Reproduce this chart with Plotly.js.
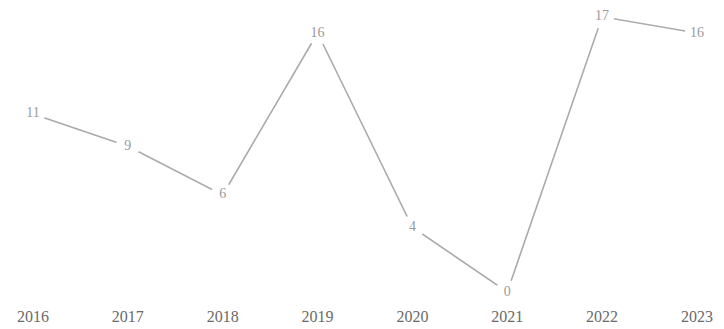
<!DOCTYPE html>
<html>
<head>
<meta charset="utf-8">
<script src="https://cdn.plot.ly/plotly-3.0.1.min.js"></script>
<style>html,body{margin:0;padding:0;background:#fff;}#chart{width:724px;height:329px;}</style>
</head>
<body>
<div id="chart"></div>
<script>
const years = [2016, 2017, 2018, 2019, 2020, 2021, 2022, 2023];
const values = [11, 9, 6, 16, 4, 0, 17, 16];
const tickLabels = ["2016", "2017", "2018", "2019", "2020", "2021", "2022", "2023"];

const trace = {
  x: years,
  y: values,
  mode: 'lines+markers+text',
  text: values.map(String),
  textposition: 'middle center',
  textfont: {family: 'Liberation Serif, serif', size: 14, color: '#9a9a9a'},
  line: {color: '#aaaaaa', width: 1.6},
  marker: {size: 24, color: '#ffffff', line: {width: 0}},
  hoverinfo: 'none',
  cliponaxis: false
};

const layout = {
  width: 724, height: 329,
  margin: {l: 0, r: 0, t: 0, b: 29},
  paper_bgcolor: '#ffffff',
  plot_bgcolor: '#ffffff',
  showlegend: false,
  xaxis: {
    range: [2015.652, 2023.285],
    tickvals: years,
    ticktext: tickLabels,
    showgrid: false, zeroline: false, showline: false,
    ticks: 'outside', ticklen: 2, tickcolor: 'rgba(0,0,0,0)',
    tickfont: {family: 'Liberation Serif, serif', size: 16, color: '#6a6a6a'}
  },
  yaxis: {
    range: [-0.494, 18.04],
    visible: false,
    showgrid: false, zeroline: false
  }
};

Plotly.newPlot('chart', [trace], layout, {displayModeBar: false, staticPlot: true});
</script>
</body>
</html>
